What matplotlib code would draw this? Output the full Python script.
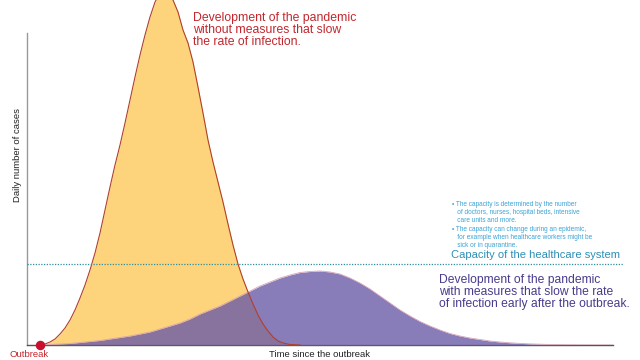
import matplotlib
matplotlib.use('Agg')
import matplotlib.pyplot as plt

plt.rcParams['font.family'] = ['Liberation Sans', 'DejaVu Sans']

# curve without measures (time since outbreak, daily cases)
fast_t = [13, 18, 23, 28, 33, 38, 43, 48, 53, 58, 63, 68, 73, 78, 83, 88, 93, 98,
          103, 108, 113, 118, 123, 128, 133, 137, 141, 146, 151, 156, 161, 166,
          171, 176, 181, 186, 191, 196, 201, 206, 211, 216, 221, 226, 231, 236,
          241, 246, 251, 256, 263, 273]
fast_cases = [0, 1, 3, 6, 11, 17, 25, 35, 47, 60, 75, 92, 112, 135, 158, 180,
              200, 222, 245, 268, 290, 310, 328, 343, 352, 355, 353, 345, 333,
              315, 302, 283, 258, 232, 205, 183, 163, 143, 121, 100, 81, 66, 53,
              41, 30, 21, 14, 8, 4, 2, 0.5, 0]

# curve with measures
slow_t = [15, 23, 33, 43, 53, 63, 73, 83, 93, 103, 113, 123, 133, 143, 153, 163,
          173, 183, 193, 203, 213, 223, 233, 243, 253, 263, 273, 283, 293, 303,
          313, 323, 333, 343, 353, 363, 373, 383, 393, 403, 413, 423, 433, 443,
          453, 463, 473, 483, 493, 503, 513, 528, 543, 563, 586]
slow_cases = [0, 0.5, 1, 1.5, 2.5, 3.5, 4.5, 6, 7.5, 9, 11, 13, 16, 19, 22, 26,
              31, 35, 39, 44, 49, 54, 59, 63, 67, 70, 72.5, 73.5, 74, 73, 71, 67,
              62, 56, 49, 42, 35, 29, 23.5, 19, 15, 11.5, 9, 7, 5.5, 4, 3, 2.2,
              1.6, 1.1, 0.8, 0.4, 0.2, 0.05, 0]

capacity = 80.7
outbreak_t = 13

red_lines = ['Development of the pandemic',
             'without measures that slow',
             'the rate of infection.']
purple_lines = ['Development of the pandemic',
                'with measures that slow the rate',
                'of infection early after the outbreak.']
note_lines = ['\u2022 The capacity is determined by the number',
              '   of doctors, nurses, hospital beds, intensive',
              '   care units and more.',
              '\u2022 The capacity can change during an epidemic,',
              '   for example when healthcare workers might be',
              '   sick or in quarantine.']

fig = plt.figure(figsize=(6.4, 3.6), dpi=100)
ax = fig.add_axes([27 / 640, 15 / 360, 586 / 640, 312 / 360])
ax.set_xlim(0, 586)
ax.set_ylim(0, 312)

# yellow curve
ax.fill_between(fast_t, fast_cases, color='#fdd47c', lw=0, clip_on=False, zorder=2)
# purple curve on top, semi transparent
ax.fill_between(slow_t, slow_cases, color='#6b5ba8', alpha=0.8, lw=0, zorder=3)
ax.plot(slow_t, slow_cases, color='#d9a3b8', lw=0.6, zorder=4)
ax.plot(fast_t, fast_cases, color='#b0402a', lw=0.8, clip_on=False, zorder=5)

# healthcare capacity
ax.hlines(capacity, 0, 596, colors='#2f8f9d', linestyles=(0, (1, 1.2)), lw=0.9,
          clip_on=False, zorder=6)

# outbreak dot
ax.scatter([outbreak_t], [0], s=34, color='#c8102e', zorder=7, clip_on=False)

for side in ['top', 'right']:
    ax.spines[side].set_visible(False)
ax.spines['left'].set_color('#999999')
ax.spines['bottom'].set_color('#555555')
ax.spines['left'].set_linewidth(1)
ax.spines['bottom'].set_linewidth(1)
ax.set_xticks([])
ax.set_yticks([])
ax.patch.set_alpha(0)


def px(x, y):
    return x / 640, 1 - y / 360


for line, y in zip(red_lines, [20.7, 33, 45.3]):
    fig.text(*px(193, y), line, color='#c1272d', fontsize=8.8, va='baseline')

for line, y in zip(purple_lines, [283, 295, 307]):
    fig.text(*px(439, y), line, color='#4b3b8c', fontsize=8.7, va='baseline')

for line, y in zip(note_lines, [206, 214, 222, 231, 239, 247]):
    fig.text(*px(452, y), line, color='#3ba3d6', fontsize=4.7, va='baseline')

fig.text(*px(451, 258.5), 'Capacity of the healthcare system', color='#2d8fb5',
         fontsize=8.0, va='baseline')

fig.text(*px(18, 155), 'Daily number of cases', rotation=90, ha='center', va='center',
         color='#222222', fontsize=6.8)
fig.text(*px(269, 357.3), 'Time since the outbreak', color='#222222', fontsize=6.8,
         va='baseline')
fig.text(*px(10, 357.3), 'Outbreak', color='#c1272d', fontsize=6.8, va='baseline')

fig.savefig('out.png', dpi=100)
